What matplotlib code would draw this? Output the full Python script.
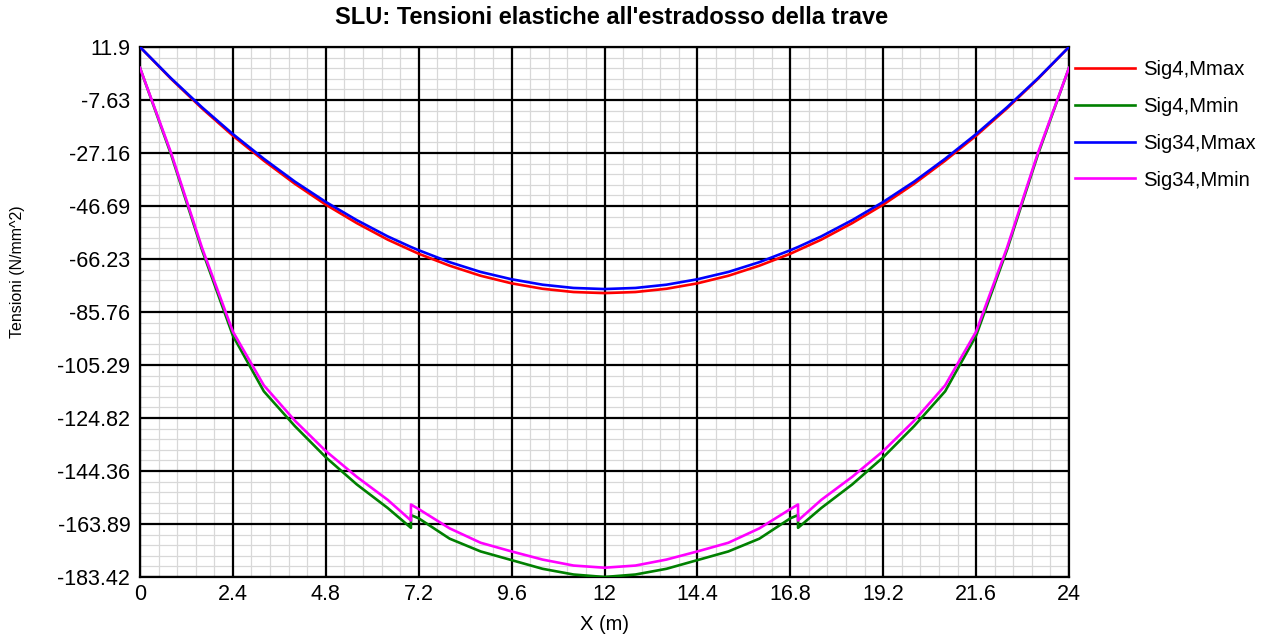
import numpy as np
import matplotlib
matplotlib.use('Agg')
import matplotlib.pyplot as plt
from matplotlib.ticker import AutoMinorLocator

plt.rcParams['font.family'] = ['Liberation Sans', 'DejaVu Sans']

# dati
x_m = [0, 0.8, 1.6, 2.4, 3.2, 4.0, 4.8, 5.6, 6.4, 7.0, 7.0, 7.2, 8.0, 8.8, 9.6, 10.4, 11.2, 12.0,
       12.8, 13.6, 14.4, 15.2, 16.0, 16.8, 17.0, 17.0, 17.6, 18.4, 19.2, 20.0, 20.8, 21.6, 22.4, 23.2, 24.0]

sig4_mmax = [11.9, 0.2, -10.7, -20.8, -30.0, -38.5, -46.2, -53.0, -59.1, -63.0, -63.0, -64.3, -68.7, -72.4,
             -75.2, -77.2, -78.4, -78.8,
             -78.4, -77.2, -75.2, -72.4, -68.7, -64.3, -63.0, -63.0, -59.1, -53.0, -46.2, -38.5, -30.0,
             -20.8, -10.7, 0.2, 11.9]

sig4_mmin = [4.2, -27.6, -62.8, -94.5, -115.0, -127.8, -139.3, -149.3, -158.0, -165.3, -160.6, -161.8, -169.3,
             -174.0, -177.2, -180.4, -182.5, -183.42,
             -182.5, -180.4, -177.2, -174.0, -169.3, -161.8, -160.6, -165.3, -158.0, -149.3, -139.3, -127.8,
             -115.0, -94.5, -62.8, -27.6, 4.2]

sig34_mmax = [11.9, 0.4, -10.3, -20.2, -29.3, -37.7, -45.2, -51.9, -57.9, -61.8, -61.8, -63.0, -67.4, -71.0,
              -73.7, -75.7, -76.9, -77.3,
              -76.9, -75.7, -73.7, -71.0, -67.4, -63.0, -61.8, -61.8, -57.9, -51.9, -45.2, -37.7, -29.3,
              -20.2, -10.3, 0.4, 11.9]

sig34_mmin = [4.2, -27.0, -62.0, -93.0, -112.8, -125.8, -137.0, -146.5, -155.0, -162.6, -156.7, -158.4, -165.5,
              -170.8, -174.0, -177.0, -179.2, -180.0,
              -179.2, -177.0, -174.0, -170.8, -165.5, -158.4, -156.7, -162.6, -155.0, -146.5, -137.0, -125.8,
              -112.8, -93.0, -62.0, -27.0, 4.2]

series_names = ['Sig4,Mmax', 'Sig4,Mmin', 'Sig34,Mmax', 'Sig34,Mmin']
colors = ['#ff0000', '#008000', '#0000ff', '#ff00ff']

x_ticks = [0, 2.4, 4.8, 7.2, 9.6, 12, 14.4, 16.8, 19.2, 21.6, 24]
x_labels = ['0', '2.4', '4.8', '7.2', '9.6', '12', '14.4', '16.8', '19.2', '21.6', '24']
y_labels = ['11.9', '-7.63', '-27.16', '-46.69', '-66.23', '-85.76', '-105.29',
            '-124.82', '-144.36', '-163.89', '-183.42']
y_max = 11.9
y_min = -183.42

fig = plt.figure(figsize=(12.68, 6.36), dpi=100)
ax = fig.add_axes([140 / 1268, 1 - 577 / 636, 929 / 1268, 530 / 636])

for ys, name, c in zip([sig4_mmax, sig4_mmin, sig34_mmax, sig34_mmin], series_names, colors):
    ax.plot(x_m, ys, color=c, lw=1.9, label=name, zorder=3)

ax.set_xlim(0, 24)
ax.set_ylim(y_min, y_max)
ax.set_xticks(x_ticks)
ax.set_xticklabels(x_labels)
y_ticks = np.linspace(y_max, y_min, len(y_labels))
ax.set_yticks(y_ticks)
ax.set_yticklabels(y_labels)
ax.xaxis.set_minor_locator(AutoMinorLocator(5))
ax.yaxis.set_minor_locator(AutoMinorLocator(5))

# griglia secondaria sotto, principale sopra
ax.grid(which='minor', color='#d8d8d8', lw=0.9)
ax.set_axisbelow(True)
for xv in x_ticks:
    ax.axvline(xv, color='black', lw=1.6, zorder=1)
for yv in y_ticks:
    ax.axhline(yv, color='black', lw=1.6, zorder=1)

ax.tick_params(which='both', length=0)
ax.tick_params(axis='y', labelsize=15.5, pad=7)
ax.tick_params(axis='x', labelsize=15.5, pad=5)
for s in ax.spines.values():
    s.set_color('black')
    s.set_linewidth(1.6)

fig.text(612 / 1268, 1 - 18 / 636, "SLU: Tensioni elastiche all'estradosso della trave",
         fontsize=17, fontweight='bold', ha='center', va='center')
ax.set_xlabel('X (m)', fontsize=14.5, labelpad=7)
fig.text(18 / 1268, 1 - 272 / 636, 'Tensioni (N/mm^2)', rotation=90,
         ha='center', va='center', fontsize=11.5)

fig.legend(loc='upper left', bbox_to_anchor=(1075 / 1268, 1 - 60 / 636), frameon=False,
           fontsize=14.6, handlelength=2.95, handletextpad=0.4, labelspacing=0.88,
           borderpad=0, borderaxespad=0)

plt.savefig('out.png', dpi=100)
plt.close()
